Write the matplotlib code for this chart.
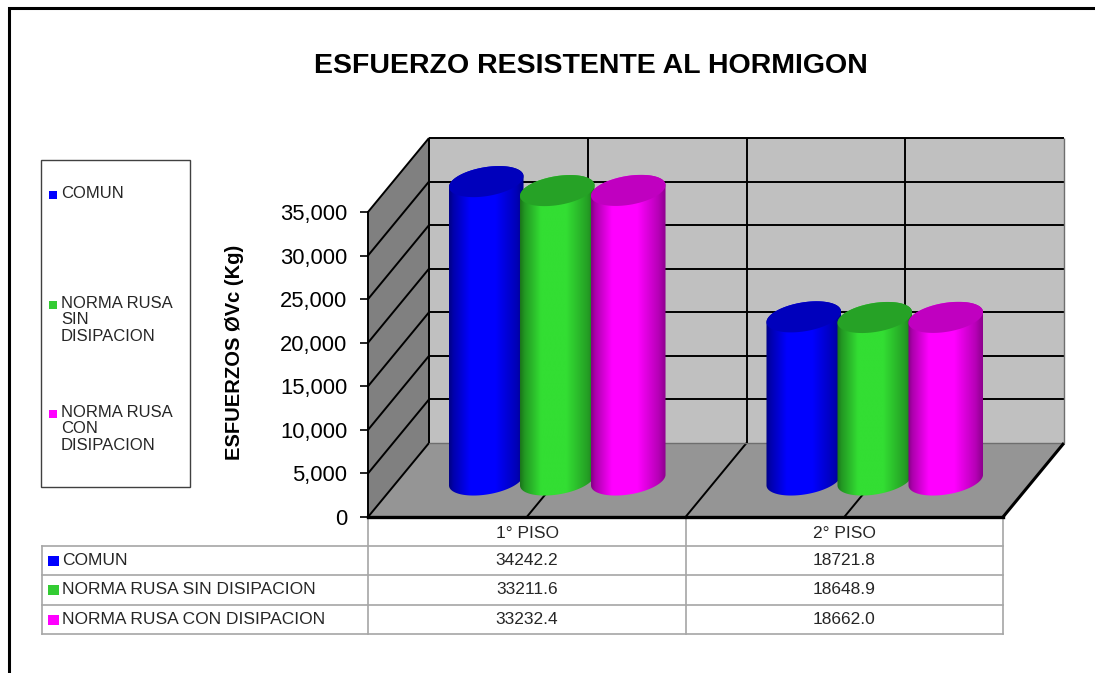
import numpy as np
import matplotlib
matplotlib.use("Agg")
import matplotlib.pyplot as plt
from matplotlib.patches import Polygon, Rectangle

plt.rcParams['font.family'] = ['Liberation Sans', 'DejaVu Sans']

title = "ESFUERZO RESISTENTE AL HORMIGON"
y_label = "ESFUERZOS ØVc (Kg)"
categories = ["1° PISO", "2° PISO"]
series_names = ["COMUN", "NORMA RUSA SIN DISIPACION", "NORMA RUSA CON DISIPACION"]
legend_names = ["COMUN", "NORMA RUSA\nSIN\nDISIPACION", "NORMA RUSA\nCON\nDISIPACION"]
comun = [34242.2, 18721.8]
sin_disipacion = [33211.6, 18648.9]
con_disipacion = [33232.4, 18662.0]
y_ticks = [0, 5000, 10000, 15000, 20000, 25000, 30000, 35000]

series = [comun, sin_disipacion, con_disipacion]
body_colors = ["#0000FF", "#33DE33", "#FF00FF"]
cap_colors = ["#0000BC", "#26A226", "#C000C0"]
key_colors = ["#0000FF", "#33CC33", "#FF00FF"]

W, H = 1095, 673
fig = plt.figure(figsize=(W / 100, H / 100), dpi=100, facecolor="white")

# overlay in pixel coordinates for frame, legend box and table
page = fig.add_axes([0, 0, 1, 1], zorder=0)
page.set_xlim(0, W)
page.set_ylim(H, 0)
page.axis("off")

# main axes is the front plane of the 3d box
left, right, top, bottom = 368, 1003, 212, 517
ax = fig.add_axes([left / W, 1 - bottom / H, (right - left) / W, (bottom - top) / H], zorder=2)
ax.patch.set_alpha(0)
ax.set_xlim(0, 2)
ax.set_ylim(0, 35000)
DEPTH_X = 61 / 317.5
DEPTH_Y = 74 / 305 * 35000


def proj(x, v, d=0.0):
    return (x + DEPTH_X * d, v + DEPTH_Y * d)


def poly(points, color, z, edge="none", lw=0):
    p = Polygon(points, closed=True, facecolor=color, edgecolor=edge, lw=lw, zorder=z, clip_on=False)
    ax.add_patch(p)
    return p


def line(a, b, color="black", lw=1.4, z=1.5):
    ax.plot([a[0], b[0]], [a[1], b[1]], color=color, lw=lw, zorder=z, clip_on=False, solid_capstyle="butt")


# walls and floor
vmax = y_ticks[-1]
poly([proj(0, 0, 1), proj(2, 0, 1), proj(2, vmax, 1), proj(0, vmax, 1)], "#C0C0C0", 1)
poly([proj(0, 0, 0), proj(0, 0, 1), proj(0, vmax, 1), proj(0, vmax, 0)], "#808080", 1)
poly([proj(0, 0, 0), proj(2, 0, 0), proj(2, 0, 1), proj(0, 0, 1)], "#959595", 1.2)

for t in y_ticks[1:]:
    line(proj(0, t, 0), proj(0, t, 1))
    line(proj(0, t, 1), proj(2, t, 1))
for gx in [0.5, 1.0, 1.5]:
    line(proj(gx, 0, 1), proj(gx, vmax, 1))
    line(proj(gx, 0, 0), proj(gx, 0, 1), z=1.3)
line(proj(0, 0, 1), proj(0, vmax, 1))
line(proj(0, 0, 0), proj(0, 0, 1), z=1.3)
line(proj(2, 0, 1), proj(2, vmax, 1), color="#6E6E6E", lw=1)
line(proj(0, 0, 1), proj(2, 0, 1), color="#6E6E6E", lw=1, z=1.3)
line(proj(2, 0, 0), proj(2, 0, 1), lw=2.2, z=1.3)

# cylinders
RX = 35 / 317.5
RD = 0.21
STEP = 71 / 317.5
t0 = np.arctan2(DEPTH_X * RD * 317.5, RX * 317.5)


def ellipse_pts(cx, v, t):
    return np.column_stack([cx + RX * np.cos(t) + DEPTH_X * RD * np.sin(t) + DEPTH_X * 0.5,
                            v + DEPTH_Y * 0.5 + DEPTH_Y * RD * np.sin(t)])


u = np.linspace(0, 1, 240)
shade = np.interp(u, [0, 0.06, 0.28, 0.62, 0.9, 1], [0.52, 0.68, 1, 1, 0.72, 0.55])
for s, values in enumerate(series):
    rgb = np.array(matplotlib.colors.to_rgb(body_colors[s]))
    grad = (shade[:, None] * rgb)[None, :, :]
    for c, v in enumerate(values):
        cx = c + 0.5 + (s - 1) * STEP
        z = 3 + c + s * 0.1
        low = ellipse_pts(cx, 0, np.linspace(t0 + np.pi, t0 + 2 * np.pi, 80))
        upp = ellipse_pts(cx, v, np.linspace(t0, t0 + np.pi, 80))
        body = np.vstack([low, upp])
        clip = Polygon(body, closed=True, transform=ax.transData, facecolor="none", edgecolor="none")
        ax.add_patch(clip)
        clip.set_clip_on(False)
        im = ax.imshow(grad, extent=(body[:, 0].min(), body[:, 0].max(), body[:, 1].min(), body[:, 1].max()),
                       aspect="auto", zorder=z, interpolation="bilinear")
        im.set_clip_box(fig.bbox)
        im.set_clip_path(clip)
        cap = ellipse_pts(cx, v, np.linspace(0, 2 * np.pi, 120))
        poly(cap, cap_colors[s], z + 0.01)

ax.set_xlim(0, 2)
ax.set_ylim(0, 35000)

# axes
for name in ["top", "right"]:
    ax.spines[name].set_visible(False)
ax.spines["left"].set_linewidth(1.4)
ax.spines["bottom"].set_linewidth(2.4)
ax.set_xticks([])
ax.set_yticks(y_ticks)
ax.set_yticklabels([f"{t:,}" for t in y_ticks], fontsize=15.8, color="black")
ax.tick_params(axis="y", length=6, width=1.2, pad=9)
ax.set_ylabel(y_label, fontsize=14.5, fontweight="bold", color="black")
ax.yaxis.set_label_coords((244 - left) / (right - left), (bottom - 352) / (bottom - top))

# title and frame
page.text(591, 66, title, fontsize=20.5, fontweight="bold", ha="center", va="center", color="black")
page.plot([8.5, 8.5, W], [H, 7.5, 7.5], color="black", lw=2.2, solid_joinstyle="miter")

# legend box
page.add_patch(Rectangle((41, 160), 149, 327, facecolor="white", edgecolor="#404040", lw=1))
legend_y = [195, 305, 414]
for name, ly, col in zip(legend_names, legend_y, key_colors):
    page.add_patch(Rectangle((49, ly - 4), 8, 8, facecolor=col, edgecolor="none"))
    page.text(61, ly - 9, name, fontsize=12, color="#262626", va="top", ha="left", linespacing=1.12)

# data table
col_x = [42, 368, 686, 1003]
row_y = [518, 546, 575, 605, 634]
grid = "#A6A6A6"
page.plot([col_x[1], col_x[1]], [row_y[0], row_y[-1]], color=grid, lw=1.2)
page.plot([col_x[2], col_x[2]], [row_y[0], row_y[-1]], color=grid, lw=1.2)
page.plot([col_x[3], col_x[3]], [row_y[0], row_y[-1]], color=grid, lw=1.2)
page.plot([col_x[0], col_x[0]], [row_y[1], row_y[-1]], color=grid, lw=1.2)
for ry in row_y[1:]:
    page.plot([col_x[0], col_x[3]], [ry, ry], color=grid, lw=1.2)
for c, cat in enumerate(categories):
    page.text((col_x[c + 1] + col_x[c + 2]) / 2, 534, cat, fontsize=12.5, color="#262626", ha="center", va="center")
for s, name in enumerate(series_names):
    ry = (row_y[s + 1] + row_y[s + 2]) / 2
    page.add_patch(Rectangle((48, ry - 5), 11, 10, facecolor=key_colors[s], edgecolor="none"))
    page.text(62, ry, name, fontsize=12.5, color="#262626", ha="left", va="center")
    for c in range(2):
        page.text((col_x[c + 1] + col_x[c + 2]) / 2, ry, f"{series[s][c]:.1f}", fontsize=12.5,
                  color="#262626", ha="center", va="center")

fig.savefig("out.png", dpi=100)
